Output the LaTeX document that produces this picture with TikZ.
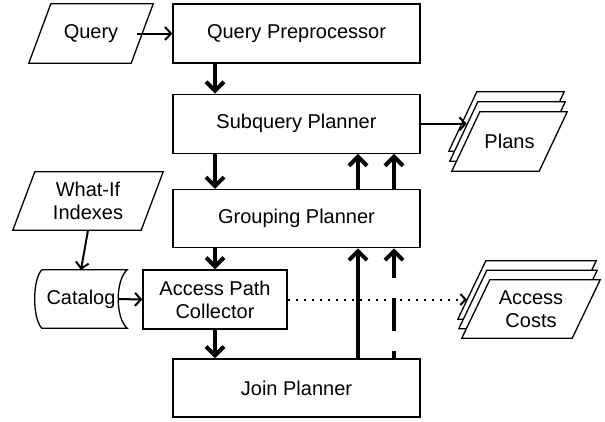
\documentclass[tikz,border=0pt]{standalone}
\usepackage{fontspec}
\setmainfont{Liberation Sans}
\usetikzlibrary{arrows.meta, positioning, calc, backgrounds}

% slanted outline round a node: node, slant, xshift, yshift
\newcommand{\slantframe}[4]{%
  \draw[line width=1.3pt, fill=white]
    ([xshift=#2+#3, yshift=#4]#1.north west) -- ([xshift=#3, yshift=#4]#1.north east)
    -- ([xshift=#3-#2, yshift=#4]#1.south east) -- ([xshift=#3, yshift=#4]#1.south west) -- cycle;}

\begin{document}
\begin{tikzpicture}[
    x=1pt, y=1pt,
    font=\fontsize{20}{23}\selectfont,
    stage/.style={rectangle, draw, line width=1.3pt, minimum width=247pt, minimum height=59pt, align=center},
    smallstage/.style={rectangle, draw, line width=1.3pt, minimum width=144pt, minimum height=59pt, align=center},
    datain/.style={rectangle, inner sep=0pt, align=center},
    store/.style={rectangle, minimum width=92pt, minimum height=58pt, inner sep=0pt},
    flow/.style={-{Straight Barb[length=9pt, width=18pt]}, line width=4pt},
    feed/.style={-{Straight Barb[length=6pt, width=13pt]}, line width=2pt},
    result/.style={-{Straight Barb[length=5pt, width=11pt]}, line width=2pt, dash pattern=on 2pt off 6pt}
]
    \useasboundingbox (0,0) rectangle (605,-421);

    % --- Planner stages ---
    \node[stage] (qprep) at (296.5,-33.5) {Query Preprocessor};
    \node[stage, below=30pt of qprep] (subq) {Subquery Planner};
    \node[stage, minimum height=58pt, below=35pt of subq] (group) {Grouping Planner};
    \node[smallstage] (apc) at (215,-299.5) {Access Path\\Collector};
    \node[stage, minimum height=58pt] (join) at (296.5,-388) {Join Planner};

    % --- Inputs ---
    \node[datain, minimum width=124pt, minimum height=59pt] (query) at (91,-33.5) {Query};
    \node[datain, minimum width=150pt, minimum height=58pt] (whatif) at (88,-201) {What-If\\Indexes};
    \node[store] (catalog) at (81,-299) {Catalog};

    % --- Outputs ---
    \node[datain, minimum width=115pt, minimum height=59pt] (plans) at (509.5,-141.5) {Plans};
    \node[datain, minimum width=138pt, minimum height=58pt] (costs) at (531,-309) {Access\\Costs};

    % --- Outlines ---
    \begin{scope}[on background layer]
        \slantframe{query}{22pt}{0pt}{0pt}
        \slantframe{whatif}{22pt}{0pt}{0pt}
        % stacked outputs
        \slantframe{plans}{28pt}{-3pt}{20pt}
        \slantframe{plans}{28pt}{-2pt}{10pt}
        \slantframe{plans}{28pt}{0pt}{0pt}
        \slantframe{costs}{28pt}{-4pt}{19pt}
        \slantframe{costs}{28pt}{-3pt}{9.5pt}
        \slantframe{costs}{28pt}{0pt}{0pt}
        % catalog store
        \draw[line width=1.3pt] ([xshift=7pt]catalog.north west) -- (catalog.north east)
            .. controls ([xshift=-12pt,yshift=-10pt]catalog.north east) and ([xshift=-12pt,yshift=10pt]catalog.south east) .. (catalog.south east)
            -- ([xshift=7pt]catalog.south west)
            .. controls ([xshift=-2.5pt,yshift=10pt]catalog.south west) and ([xshift=-2.5pt,yshift=-10pt]catalog.north west) .. ([xshift=7pt]catalog.north west);
    \end{scope}

    % --- Flow Arrows ---
    \draw[feed] ([xshift=-16pt]query.east) -- (qprep.west);
    \draw[flow] (qprep.south -| apc) -- (subq.north -| apc);
    \draw[flow] (subq.south -| apc) -- (group.north -| apc);
    \draw[flow] (group.south -| apc) -- (apc.north);
    \draw[flow] (apc.south) -- (join.north -| apc);

    % Inputs to the collector
    \draw[feed] (whatif.south) -- (catalog.north);
    \draw[feed] ([xshift=-9pt]catalog.east) -- (apc.west);

    % Results
    \draw[feed] (subq.east) -- ([xshift=15pt]subq.east -| plans.west);
    \draw[result] (apc.east) -- ([xshift=5pt]apc.east -| costs.west);

    % Feedback upwards
    \draw[flow] ([xshift=61.5pt]group.north) -- ([xshift=61.5pt]subq.south);
    \draw[flow] ([xshift=97.5pt]group.north) -- ([xshift=97.5pt]subq.south);
    \draw[flow] ([xshift=61.5pt]join.north) -- ([xshift=61.5pt]group.south);
    \draw[flow, dash pattern=on 33pt off 20pt, dash phase=26pt] ([xshift=97.5pt]join.north) -- ([xshift=97.5pt]group.south);

\end{tikzpicture}
\end{document}
